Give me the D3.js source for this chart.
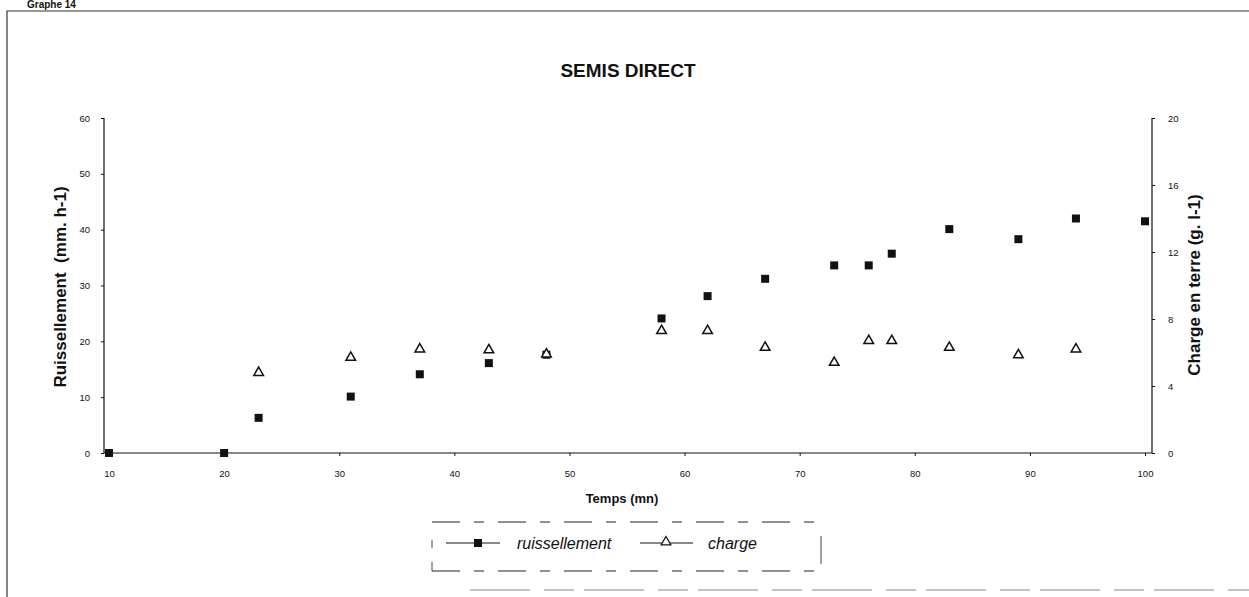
<!DOCTYPE html>
<html><head><meta charset="utf-8">
<script src="https://cdn.jsdelivr.net/npm/d3@7"></script>
<style>body{margin:0;background:#fff}svg{display:block;font-family:"Liberation Sans",Arial,sans-serif}</style>
</head><body>
<script>
// Data
const temps = [10, 20, 23, 31, 37, 43, 48, 58, 62, 67, 73, 76, 78, 83, 89, 94, 100];
const ruissellement = [0, 0, 6.3, 10.1, 14.1, 16.1, 17.6, 24.1, 28.1, 31.2, 33.6, 33.6, 35.7, 40.1, 38.3, 42.0, 41.5];
const chargeTemps = [23, 31, 37, 43, 48, 58, 62, 67, 73, 76, 78, 83, 89, 94];
const charge = [4.8, 5.7, 6.2, 6.15, 5.9, 7.3, 7.3, 6.3, 5.4, 6.7, 6.7, 6.3, 5.85, 6.2];
const xTicks = [10, 20, 30, 40, 50, 60, 70, 80, 90, 100];
const yLeftTicks = [0, 10, 20, 30, 40, 50, 60];
const yRightTicks = [0, 4, 8, 12, 16, 20];
const legendLabels = ["ruissellement", "charge"];

const W = 1249, H = 597;
const svg = d3.select("body").append("svg").attr("width", W).attr("height", H);
const ink = "#111";

// frame
svg.append("path").attr("d", "M7,597 V11 H1249").attr("fill", "none").attr("stroke", "#333").attr("stroke-width", 1.2);
svg.append("line").attr("x1", 470).attr("x2", 1249).attr("y1", 590).attr("y2", 590)
  .attr("stroke", "#888").attr("stroke-width", 1).attr("stroke-dasharray", "60,14,30,10");
svg.append("text").attr("x", 27).attr("y", 8).attr("font-size", 10).attr("font-weight", "bold").attr("fill", ink).text("Graphe 14");

const x = d3.scaleLinear().domain([10, 100]).range([109, 1145]);
const yL = d3.scaleLinear().domain([0, 60]).range([453, 118]);
const yR = d3.scaleLinear().domain([0, 20]).range([453, 118]);
const xLeft = 104, xRight = 1152, yBottom = 453;

// axes lines
svg.append("line").attr("x1", xLeft).attr("x2", xRight).attr("y1", yBottom).attr("y2", yBottom).attr("stroke", ink).attr("stroke-width", 1.2);
svg.append("line").attr("x1", xLeft).attr("x2", xLeft).attr("y1", 118).attr("y2", yBottom).attr("stroke", ink).attr("stroke-width", 1.2);
svg.append("line").attr("x1", xRight).attr("x2", xRight).attr("y1", 118).attr("y2", yBottom).attr("stroke", ink).attr("stroke-width", 1.2);

function style(g){
  g.select(".domain").remove();
  g.selectAll(".tick line").attr("stroke", ink);
  g.selectAll(".tick text").attr("fill", ink).attr("font-size", 9.5).attr("font-family", "Liberation Sans, Arial, sans-serif");
}
svg.append("g").attr("transform", `translate(0,${yBottom})`)
  .call(d3.axisBottom(x).tickValues(xTicks).tickSize(3).tickPadding(14).tickFormat(d3.format("d"))).call(style);
svg.append("g").attr("transform", `translate(${xLeft},0)`)
  .call(d3.axisLeft(yL).tickValues(yLeftTicks).tickSize(3).tickPadding(11).tickFormat(d3.format("d"))).call(style);
svg.append("g").attr("transform", `translate(${xRight},0)`)
  .call(d3.axisRight(yR).tickValues(yRightTicks).tickSize(3).tickPadding(13).tickFormat(d3.format("d"))).call(style);

// titles
svg.append("text").attr("x", 628).attr("y", 77).attr("text-anchor", "middle").attr("font-size", 19).attr("font-weight", "bold").attr("fill", ink).text("SEMIS DIRECT");
svg.append("text").attr("x", 622).attr("y", 503).attr("text-anchor", "middle").attr("font-size", 13).attr("font-weight", "bold").attr("fill", ink).text("Temps (mn)");
svg.append("text").attr("transform", "translate(66,287) rotate(-90)").attr("text-anchor", "middle").attr("font-size", 17).attr("font-weight", "bold").attr("fill", ink).attr("xml:space","preserve").text("Ruissellement  (mm. h-1)");
svg.append("text").attr("transform", "translate(1200,285) rotate(-90)").attr("text-anchor", "middle").attr("font-size", 17).attr("font-weight", "bold").attr("fill", ink).text("Charge en terre (g. l-1)");

// markers
const sq = 8;
svg.append("g").selectAll("rect").data(temps.map((t, i) => [t, ruissellement[i]])).join("rect")
  .attr("x", d => x(d[0]) - sq / 2).attr("y", d => yL(d[1]) - sq / 2).attr("width", sq).attr("height", sq).attr("fill", ink);
const tri = d3.symbol().type(d3.symbolTriangle).size(40);
svg.append("g").selectAll("path").data(chargeTemps.map((t, i) => [t, charge[i]])).join("path")
  .attr("d", tri).attr("transform", d => `translate(${x(d[0])},${yR(d[1])})`)
  .attr("fill", "#fff").attr("stroke", ink).attr("stroke-width", 1.5);

// legend
const lg = svg.append("g");
const dash = {stroke: "#222", "stroke-width": 1.2, "stroke-dasharray": "28,14,10,14"};
function dl(x1, y1, x2, y2){ const l = lg.append("line").attr("x1", x1).attr("y1", y1).attr("x2", x2).attr("y2", y2); Object.entries(dash).forEach(([k, v]) => l.attr(k, v)); }
dl(432, 522, 820, 522);
dl(432, 571, 820, 571);
lg.append("line").attr("x1", 432).attr("x2", 432).attr("y1", 540).attr("y2", 548).attr("stroke", "#444");
lg.append("line").attr("x1", 432).attr("x2", 432).attr("y1", 562).attr("y2", 571).attr("stroke", "#444");
lg.append("line").attr("x1", 821).attr("x2", 821).attr("y1", 536).attr("y2", 564).attr("stroke", "#444");
lg.append("line").attr("x1", 446).attr("x2", 500).attr("y1", 543).attr("y2", 543).attr("stroke", ink);
lg.append("rect").attr("x", 474).attr("y", 539).attr("width", 8).attr("height", 8).attr("fill", ink);
lg.append("text").attr("x", 517).attr("y", 549).attr("font-size", 16).attr("font-style", "italic").attr("fill", ink).text(legendLabels[0]);
lg.append("line").attr("x1", 640).attr("x2", 693).attr("y1", 543).attr("y2", 543).attr("stroke", ink);
lg.append("path").attr("d", tri).attr("transform", "translate(666,542)").attr("fill", "#fff").attr("stroke", ink).attr("stroke-width", 1.3);
lg.append("text").attr("x", 708).attr("y", 549).attr("font-size", 16).attr("font-style", "italic").attr("fill", ink).text(legendLabels[1]);
</script>
</body></html>
